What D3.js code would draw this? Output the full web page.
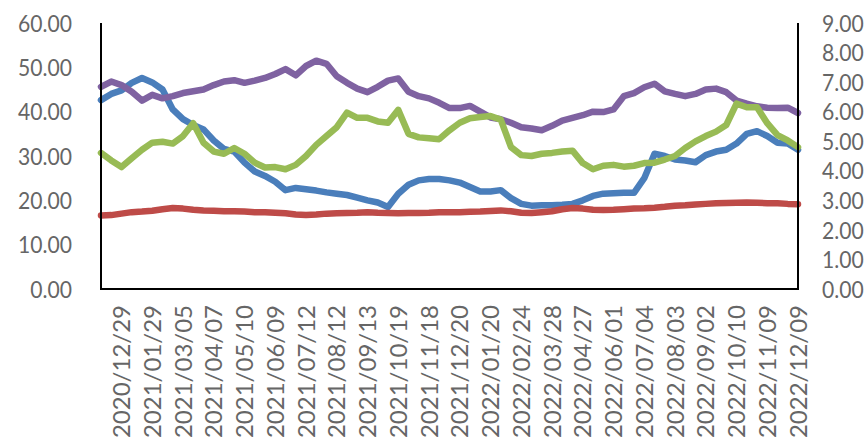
<!DOCTYPE html>
<html>
<head>
<meta charset="utf-8">
<script src="https://cdn.jsdelivr.net/npm/d3@7"></script>
<style>
  body { margin: 0; background: #fff; }
  svg text { font-family: Lato, "Open Sans", sans-serif; fill: #666; }
</style>
</head>
<body>
<div id="chart"></div>
<script>
// tick labels on the category axis (every 3rd sample point)
const dateLabels = ["2020/12/29", "2021/01/29", "2021/03/05", "2021/04/07", "2021/05/10", "2021/06/09",
  "2021/07/12", "2021/08/12", "2021/09/13", "2021/10/19", "2021/11/18", "2021/12/20", "2022/01/20",
  "2022/02/24", "2022/03/28", "2022/04/27", "2022/06/01", "2022/07/04", "2022/08/03", "2022/09/02",
  "2022/10/10", "2022/11/09", "2022/12/09"];

// left axis series
const blueSeries = [42.6, 44, 44.8, 46.5, 47.6, 46.6, 45, 40.5, 38.3, 37, 36, 33.5, 31.6, 31, 28.5, 26.5, 25.5,
  24.2, 22.3, 22.8, 22.5, 22.2, 21.8, 21.5, 21.2, 20.6, 20, 19.5, 18.5, 21.5, 23.5, 24.5, 24.8, 24.8, 24.5,
  24, 23, 22, 22, 22.3, 20.5, 19.2, 18.8, 18.9, 18.9, 19, 19.2, 20, 21, 21.5, 21.6, 21.7, 21.7, 25, 30.5,
  30, 29.2, 29, 28.6, 30.2, 31, 31.4, 32.8, 35, 35.6, 34.5, 33, 32.8, 31.4];

const greenSeries = [30.7, 29, 27.5, 29.5, 31.4, 33, 33.2, 32.8, 34.5, 37.4, 33, 31, 30.5, 31.8, 30.5, 28.5,
  27.4, 27.5, 27, 28, 30, 32.5, 34.5, 36.5, 39.8, 38.6, 38.6, 37.8, 37.5, 40.4, 35, 34.2, 34, 33.8, 35.8,
  37.5, 38.5, 38.8, 39, 38.2, 32, 30.2, 30, 30.5, 30.7, 31, 31.2, 28.4, 27, 27.8, 28, 27.6, 27.8, 28.4,
  28.5, 29.2, 30, 31.8, 33.3, 34.5, 35.5, 37, 41.8, 41, 41, 37.4, 34.7, 33.5, 32];

const purpleSeries = [45.6, 46.8, 46, 44.5, 42.5, 43.8, 43, 43.5, 44.2, 44.6, 45, 46, 46.8, 47.1, 46.5, 47,
  47.6, 48.5, 49.6, 48.2, 50.3, 51.5, 50.8, 48, 46.5, 45.2, 44.4, 45.6, 47, 47.5, 44.5, 43.5, 43, 42, 40.8,
  40.8, 41.3, 40, 38.7, 38.3, 37.5, 36.5, 36.2, 35.8, 36.8, 38, 38.6, 39.2, 40, 39.9, 40.5, 43.5, 44.2,
  45.5, 46.3, 44.6, 44, 43.5, 44, 45, 45.2, 44.4, 42.5, 41.8, 41.2, 40.9, 40.8, 40.9, 39.7];

// right axis series
const redSeries = [2.49, 2.5, 2.55, 2.6, 2.62, 2.65, 2.7, 2.74, 2.72, 2.68, 2.66, 2.65, 2.63, 2.63, 2.62, 2.6,
  2.6, 2.58, 2.56, 2.52, 2.5, 2.52, 2.55, 2.56, 2.57, 2.58, 2.6, 2.58, 2.57, 2.56, 2.57, 2.57, 2.58, 2.6,
  2.6, 2.6, 2.61, 2.62, 2.64, 2.66, 2.63, 2.58, 2.57, 2.6, 2.63, 2.7, 2.74, 2.72, 2.68, 2.67, 2.68, 2.7,
  2.72, 2.73, 2.75, 2.78, 2.82, 2.83, 2.86, 2.88, 2.9, 2.91, 2.92, 2.93, 2.92, 2.9, 2.9, 2.88, 2.87];

const leftTicks = [0, 10, 20, 30, 40, 50, 60];
const rightTicks = [0, 1, 2, 3, 4, 5, 6, 7, 8, 9];

const width = 866, height = 441;
const plot = { left: 101, right: 798, top: 23, bottom: 289 };
const labelStep = 3, labelStart = 2;

const svg = d3.select("#chart").append("svg")
  .attr("width", width)
  .attr("height", height);

const x = d3.scaleLinear()
  .domain([0, blueSeries.length - 1])
  .range([plot.left, plot.right]);

const yLeft = d3.scaleLinear().domain([0, 60]).range([plot.bottom, plot.top]);
const yRight = d3.scaleLinear().domain([0, 9]).range([plot.bottom, plot.top]);

// series lines
const series = [
  { values: blueSeries, scale: yLeft, color: "#4a7ebb" },
  { values: purpleSeries, scale: yLeft, color: "#7f62a1" },
  { values: greenSeries, scale: yLeft, color: "#98bb55" },
  { values: redSeries, scale: yRight, color: "#be4b48" }
];

const lineGroup = svg.append("g");
series.forEach(s => {
  const line = d3.line()
    .x((d, i) => x(i))
    .y(d => s.scale(d));
  lineGroup.append("path")
    .datum(s.values)
    .attr("d", line)
    .attr("fill", "none")
    .attr("stroke", s.color)
    .attr("stroke-width", 6.5)
    .attr("stroke-linejoin", "round")
    .attr("stroke-linecap", "round");
});

// axis lines
const axisGroup = svg.append("g").attr("stroke", "#000").attr("stroke-width", 2);
axisGroup.append("line").attr("x1", plot.left).attr("x2", plot.left).attr("y1", plot.top).attr("y2", plot.bottom + 1);
axisGroup.append("line").attr("x1", plot.right).attr("x2", plot.right).attr("y1", plot.top).attr("y2", plot.bottom + 1);
axisGroup.append("line").attr("x1", plot.left - 1).attr("x2", plot.right + 1).attr("y1", plot.bottom).attr("y2", plot.bottom);

// left tick labels
svg.append("g").selectAll("text")
  .data(leftTicks)
  .enter().append("text")
  .attr("transform", d => `translate(72,${yLeft(d)}) scale(0.88,1)`)
  .attr("dy", "0.36em")
  .attr("text-anchor", "end")
  .style("font-size", "24px")
  .text(d => d3.format(".2f")(d));

// right tick labels
svg.append("g").selectAll("text")
  .data(rightTicks)
  .enter().append("text")
  .attr("transform", d => `translate(822,${yRight(d)}) scale(0.88,1)`)
  .attr("dy", "0.36em")
  .attr("text-anchor", "start")
  .style("font-size", "24px")
  .text(d => d3.format(".2f")(d));

// date labels, rotated
svg.append("g").selectAll("text")
  .data(dateLabels)
  .enter().append("text")
  .attr("transform", (d, i) => `translate(${x(labelStart + i * labelStep)},305) rotate(-90)`)
  .attr("dy", "0.36em")
  .attr("text-anchor", "end")
  .style("font-size", "24px")
  .text(d => d);
</script>
</body>
</html>
